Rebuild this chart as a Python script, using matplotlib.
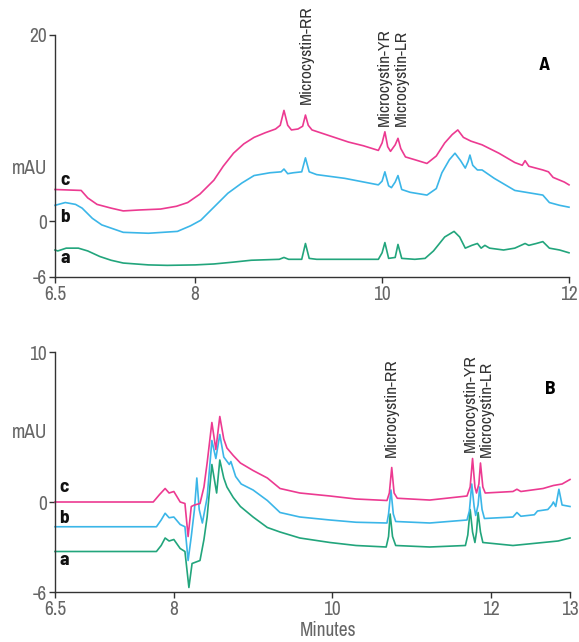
import matplotlib
matplotlib.use("Agg")
import matplotlib.pyplot as plt

FONT = ['Archivo Narrow', 'DejaVu Sans']
BOLD = ['Barlow Semi Condensed', 'Asap Condensed', 'DejaVu Sans']
plt.rcParams['font.family'] = FONT

# ---------------- data (minutes, mAU) ----------------
top_c = [(6.5, 3.4), (6.78, 3.3), (6.85, 2.5), (6.95, 1.8), (7.1, 1.4), (7.23, 1.1), (7.4, 1.2),
         (7.63, 1.3), (7.8, 1.6), (7.92, 2.0), (8.05, 2.9), (8.2, 4.4), (8.3, 5.9), (8.41, 7.3),
         (8.52, 8.3), (8.63, 9.0), (8.75, 9.5), (8.86, 9.9), (8.91, 10.3), (8.95, 11.9), (8.99, 10.3),
         (9.03, 9.8), (9.1, 9.9), (9.15, 10.2), (9.18, 11.4), (9.21, 10.3), (9.25, 9.8), (9.4, 9.3),
         (9.64, 8.5), (9.8, 8.1), (9.96, 7.6), (10.0, 8.4), (10.03, 9.6), (10.06, 8.0), (10.09, 7.5),
         (10.14, 8.2), (10.17, 8.9), (10.2, 7.8), (10.25, 6.9), (10.35, 6.6), (10.48, 6.2), (10.58, 7.0),
         (10.67, 8.4), (10.75, 9.3), (10.81, 9.8), (10.87, 9.0), (10.95, 8.6), (11.07, 8.2), (11.25, 7.3),
         (11.42, 6.3), (11.5, 6.0), (11.53, 6.5), (11.57, 5.9), (11.72, 5.5), (11.78, 5.3), (11.83, 4.7),
         (11.95, 4.2), (12.0, 3.9)]
top_b = [(6.5, 1.7), (6.61, 2.0), (6.72, 1.8), (6.79, 1.4), (6.9, 0.3), (7.0, -0.4), (7.23, -1.2),
         (7.5, -1.3), (7.81, -1.1), (7.95, -0.5), (8.06, 0.1), (8.2, 1.5), (8.35, 3.0), (8.5, 4.1),
         (8.63, 4.9), (8.8, 5.2), (8.92, 5.3), (8.95, 5.6), (8.99, 5.1), (9.05, 5.2), (9.14, 5.3),
         (9.18, 6.8), (9.22, 5.3), (9.3, 5.0), (9.6, 4.6), (9.96, 3.9), (10.0, 4.3), (10.03, 5.3),
         (10.07, 3.8), (10.1, 3.6), (10.14, 4.2), (10.17, 4.9), (10.21, 3.4), (10.3, 3.1), (10.48, 2.8),
         (10.58, 3.5), (10.64, 5.2), (10.72, 6.6), (10.78, 7.3), (10.84, 6.5), (10.89, 5.7), (10.92, 6.4),
         (10.94, 7.1), (10.97, 6.0), (11.02, 5.5), (11.07, 5.5), (11.2, 4.6), (11.42, 3.3), (11.6, 3.0),
         (11.72, 2.8), (11.79, 2.0), (11.9, 1.7), (12.0, 1.5)]
top_a = [(6.5, -3.1), (6.53, -3.2), (6.62, -2.9), (6.75, -2.9), (6.85, -3.2), (6.98, -3.8), (7.1, -4.2),
         (7.23, -4.5), (7.5, -4.7), (7.7, -4.75), (8.0, -4.7), (8.2, -4.6), (8.41, -4.4), (8.6, -4.2),
         (8.9, -4.1), (8.95, -3.9), (9.0, -4.1), (9.14, -4.1), (9.18, -2.4), (9.22, -4.0), (9.3, -4.1),
         (9.96, -4.1), (10.0, -3.4), (10.03, -2.3), (10.07, -4.0), (10.14, -3.9), (10.17, -2.5),
         (10.21, -4.0), (10.35, -4.1), (10.46, -4.0), (10.55, -3.2), (10.67, -1.7), (10.77, -1.1),
         (10.83, -1.7), (10.89, -2.9), (10.96, -2.6), (11.02, -2.4), (11.06, -2.9), (11.1, -2.6),
         (11.15, -2.9), (11.3, -3.1), (11.42, -2.9), (11.53, -2.4), (11.57, -2.6), (11.65, -2.4),
         (11.72, -2.2), (11.79, -2.9), (11.9, -3.1), (12.0, -3.4)]

bot_c = [(6.5, 0.0), (7.74, 0.0), (7.82, 0.5), (7.89, 0.9), (7.94, 0.6), (8.0, 0.7), (8.08, 0.0),
         (8.14, -0.1), (8.18, -2.3), (8.22, -0.3), (8.26, -0.2), (8.33, -0.1), (8.38, 1.0), (8.42, 2.6),
         (8.48, 5.3), (8.53, 3.5), (8.58, 5.7), (8.63, 4.2), (8.67, 3.6), (8.75, 3.1), (8.84, 2.6),
         (9.0, 2.1), (9.18, 1.6), (9.34, 0.9), (9.59, 0.6), (9.97, 0.4), (10.3, 0.2), (10.69, 0.1),
         (10.72, 0.6), (10.75, 2.3), (10.78, 0.6), (10.82, 0.25), (11.23, 0.13), (11.7, 0.4),
         (11.74, 1.0), (11.77, 2.9), (11.8, 1.0), (11.82, 0.6), (11.85, 1.2), (11.87, 2.6), (11.9, 1.0),
         (11.93, 0.6), (12.28, 0.7), (12.33, 0.85), (12.38, 0.7), (12.66, 0.9), (12.79, 1.1),
         (12.9, 1.2), (13.0, 1.5)]
bot_b = [(6.5, -1.65), (7.78, -1.65), (7.84, -1.2), (7.89, -0.75), (7.94, -1.05), (8.0, -1.0),
         (8.08, -1.5), (8.14, -1.65), (8.18, -3.9), (8.22, -2.3), (8.26, -0.5), (8.29, 1.6), (8.32, -0.5),
         (8.36, -1.4), (8.42, 0.3), (8.48, 4.1), (8.53, 2.9), (8.58, 4.5), (8.63, 3.0), (8.7, 2.5),
         (8.72, 2.7), (8.78, 1.7), (8.85, 1.2), (9.0, 0.8), (9.18, 0.1), (9.34, -0.7), (9.59, -1.0),
         (9.97, -1.2), (10.3, -1.35), (10.69, -1.4), (10.71, -0.8), (10.74, 0.8), (10.77, -0.8),
         (10.8, -1.3), (11.23, -1.4), (11.7, -1.2), (11.73, -0.6), (11.76, 1.2), (11.79, -0.3),
         (11.81, -0.9), (11.84, -0.2), (11.86, 1.0), (11.89, -0.5), (11.92, -1.1), (12.28, -1.0),
         (12.33, -0.7), (12.38, -0.95), (12.55, -0.85), (12.59, -0.6), (12.72, -0.5), (12.77, -0.2),
         (12.79, 0.0), (12.82, -0.3), (12.86, 0.85), (12.9, -0.2), (13.0, -0.3)]
bot_a = [(6.5, -3.3), (7.78, -3.3), (7.84, -2.9), (7.89, -2.4), (7.94, -2.6), (8.0, -2.5), (8.08, -3.1),
         (8.14, -3.3), (8.19, -5.7), (8.23, -4.1), (8.33, -3.9), (8.38, -2.5), (8.42, -1.0), (8.48, 2.5),
         (8.54, 0.6), (8.58, 2.8), (8.63, 1.6), (8.67, 1.0), (8.75, 0.3), (8.84, -0.3), (9.0, -1.0),
         (9.18, -1.7), (9.34, -2.0), (9.59, -2.4), (9.97, -2.7), (10.3, -2.9), (10.68, -3.0),
         (10.71, -2.3), (10.73, -0.8), (10.76, -2.3), (10.8, -2.9), (11.23, -3.0), (11.68, -2.9),
         (11.71, -2.2), (11.74, -0.5), (11.77, -2.0), (11.8, -2.7), (11.82, -2.0), (11.84, -0.7),
         (11.87, -2.0), (11.9, -2.7), (12.28, -2.9), (12.66, -2.7), (12.85, -2.6), (13.0, -2.4)]

series_names = ['a', 'b', 'c']
peak_names = ['Microcystin-RR', 'Microcystin-YR', 'Microcystin-LR']
top_peak_pos = [(9.19, 12.6), (10.02, 10.2), (10.21, 10.2)]
bot_peak_pos = [(10.75, 3.0), (11.74, 3.3), (11.95, 3.0)]
top_series_label_y = [-4.0, 0.4, 4.4]
bot_series_label_y = [-3.9, -1.07, 1.0]

top_xticks = [6.5, 8, 10, 12]
top_yticks = [20, 0, -6]
bot_xticks = [6.5, 8, 10, 12, 13]
bot_yticks = [10, 0, -6]

colors = {'a': '#22a57c', 'b': '#3bb6e8', 'c': '#ec3a91'}

fig = plt.figure(figsize=(5.79, 6.42), dpi=100)
ax1 = fig.add_axes([55/579, 1-277/642, 514/579, 242/642])
ax2 = fig.add_axes([55/579, 1-592/642, 515/579, 240/642])


def style(ax, xlim, ylim, xt, yt):
    ax.set_xlim(*xlim)
    ax.set_ylim(*ylim)
    for s in ['top', 'right']:
        ax.spines[s].set_visible(False)
    for s in ['left', 'bottom']:
        ax.spines[s].set_color('#333333')
        ax.spines[s].set_linewidth(1.0)
    ax.set_xticks(xt)
    ax.set_xticklabels([('%g' % v) for v in xt])
    ax.set_yticks(yt)
    ax.set_yticklabels([('%g' % v) for v in yt])
    ax.tick_params(axis='both', length=4, width=1, color='#333333', labelcolor='#666666',
                   labelsize=14, pad=2)


def draw(ax, data_list):
    for name, data in zip(series_names, data_list):
        xs = [p[0] for p in data]
        ys = [p[1] for p in data]
        ax.plot(xs, ys, color=colors[name], lw=1.2, solid_joinstyle='round', clip_on=False)


draw(ax1, [top_a, top_b, top_c])
draw(ax2, [bot_a, bot_b, bot_c])
style(ax1, (6.5, 12), (-6, 20), top_xticks, top_yticks)
style(ax2, (6.5, 13), (-6, 10), bot_xticks, bot_yticks)

for ax, pos in ((ax1, top_peak_pos), (ax2, bot_peak_pos)):
    for name, (x, y) in zip(peak_names, pos):
        ax.text(x, y, name, rotation=90, ha='center', va='bottom', fontsize=12.5, color='#333333')

for ax, ys in ((ax1, top_series_label_y), (ax2, bot_series_label_y)):
    for name, y in zip(series_names, ys):
        ax.text(6.555, y, name, ha='left', va='center', fontsize=14, fontweight='bold',
                family=BOLD, color='#111111')

fig.text(12/579, 1-168/642, 'mAU', fontsize=14, color='#666666', ha='left', va='center')
fig.text(12/579, 1-432/642, 'mAU', fontsize=14, color='#666666', ha='left', va='center')
fig.text(544/579, 1-66/642, 'A', fontsize=14, fontweight='bold', family=BOLD, ha='center', va='center')
fig.text(550/579, 1-390/642, 'B', fontsize=14, fontweight='bold', family=BOLD, ha='center', va='center')
fig.text(328/579, 1.5/642, 'Minutes', fontsize=14, color='#666666', ha='center', va='bottom')

fig.savefig('out.png', dpi=100)
